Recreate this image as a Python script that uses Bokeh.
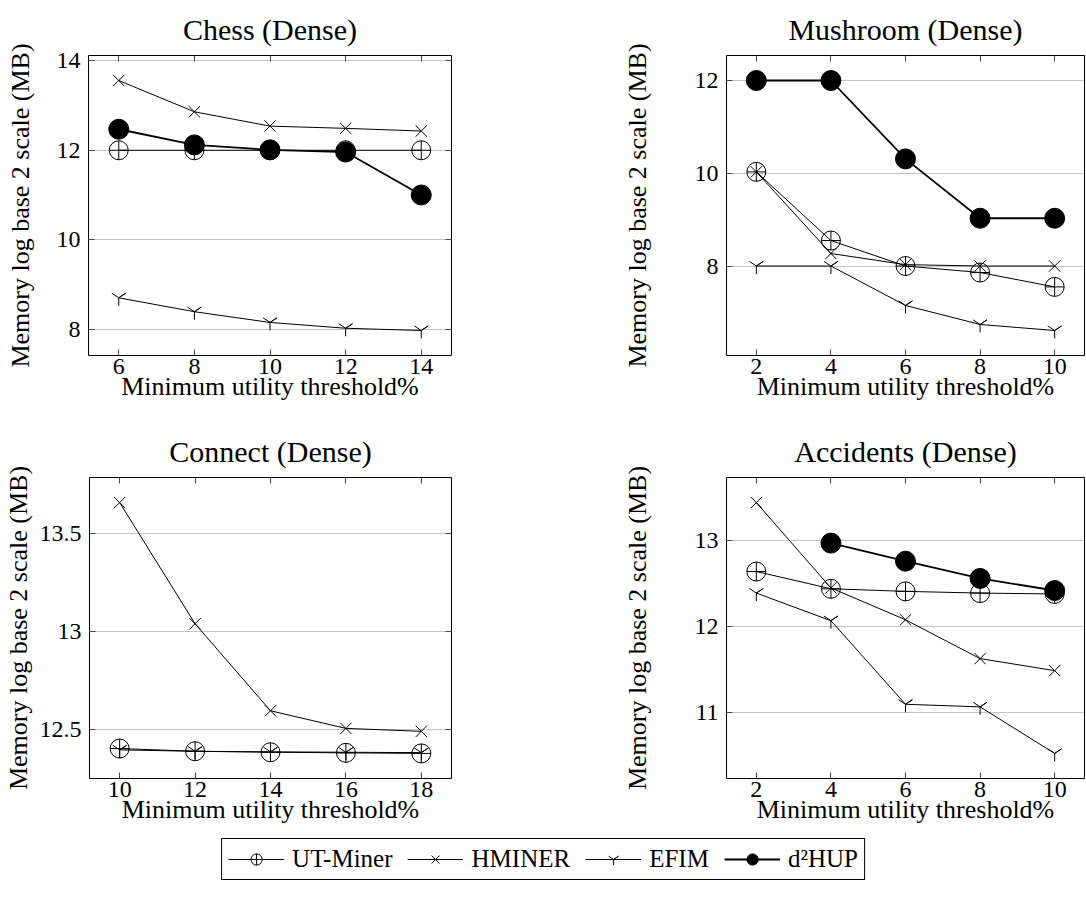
from bokeh.plotting import figure
from bokeh.layouts import column, row
from bokeh.models import (LinearAxis, FixedTicker, Range1d, Legend, LegendItem,
                          NumeralTickFormatter)
from bokeh.embed import file_html
from bokeh.resources import INLINE

# ---------------- data ----------------
methods = ["UT-Miner", "HMINER", "EFIM", "d²HUP"]

chess_x = [6, 8, 10, 12, 14]
chess_ut = [12.0, 12.0, 12.0, 12.0, 12.0]
chess_hminer = [13.56, 12.86, 12.54, 12.49, 12.43]
chess_efim = [8.70, 8.39, 8.15, 8.02, 7.97]
chess_d2hup = [12.47, 12.12, 12.01, 11.96, 11.0]

mush_x = [2, 4, 6, 8, 10]
mush_ut = [10.03, 8.55, 8.0, 7.86, 7.55]
mush_hminer = [10.03, 8.27, 8.03, 8.0, 8.0]
mush_efim = [8.0, 8.0, 7.15, 6.74, 6.61]
mush_d2hup = [12.0, 12.0, 10.31, 9.03, 9.03]

conn_x = [10, 12, 14, 16, 18]
conn_ut = [12.402, 12.388, 12.383, 12.380, 12.377]
conn_hminer = [13.66, 13.04, 12.595, 12.505, 12.49]
conn_efim = [12.395, 12.388, 12.385, 12.383, 12.381]

acc_x = [2, 4, 6, 8, 10]
acc_ut = [12.64, 12.44, 12.41, 12.39, 12.38]
acc_hminer = [13.44, 12.45, 12.08, 11.63, 11.49]
acc_efim = [12.39, 12.07, 11.10, 11.07, 10.53]
acc_d2hup_x = [4, 6, 8, 10]
acc_d2hup = [12.97, 12.76, 12.56, 12.42]

chess_yticks = [8, 10, 12, 14]
mush_yticks = [8, 10, 12]
conn_yticks = [12.5, 13, 13.5]
acc_yticks = [11, 12, 13]

# ---------------- style ----------------
SERIF = "Liberation Serif"
STYLE = {
    "UT-Miner": dict(marker="circle_cross", size=19, fill=None, lw=1.0),
    "HMINER": dict(marker="x", size=16, fill=None, lw=1.0),
    "EFIM": dict(marker="y", size=16, fill=None, lw=1.0),
    "d²HUP": dict(marker="circle", size=20, fill="black", lw=1.8),
}


def enlarge(vals, frac=0.1):
    lo, hi = min(vals), max(vals)
    d = (hi - lo) * frac
    return lo - d, hi + d


def panel(title, series, xticks, yticks, width, height, mb, ylab_standoff,
          right_axis=True, yfmt="0"):
    allx = [v for s in series for v in s[1]]
    ally = [v for s in series for v in s[2]]
    x0, x1 = enlarge(allx)
    y0, y1 = enlarge(ally)
    p = figure(width=width, height=height, x_range=Range1d(x0, x1),
               y_range=Range1d(y0, y1), output_backend="svg",
               toolbar_location=None, min_border_left=mb[0],
               min_border_right=mb[1], min_border_top=mb[2],
               min_border_bottom=mb[3], background_fill_color="white",
               border_fill_color="white")
    p.title.text = title
    p.title.text_font = SERIF
    p.title.text_font_size = "30px"
    p.title.text_font_style = "normal"
    p.title.text_color = "black"
    p.title.align = "center"
    p.title.vertical_align = "top"
    p.title.standoff = 15
    p.outline_line_color = "black"
    p.outline_line_width = 1
    p.outline_line_alpha = 1

    for ax in (p.xaxis[0], p.yaxis[0]):
        ax.major_tick_in = 6
        ax.major_tick_out = 0
        ax.minor_tick_line_color = None
        ax.axis_line_color = None
        ax.major_tick_line_color = "#444444"
        ax.major_label_text_font = SERIF
        ax.major_label_text_font_size = "24px"
        ax.major_label_text_color = "black"
        ax.axis_label_text_font = SERIF
        ax.axis_label_text_font_size = "26px"
        ax.axis_label_text_font_style = "normal"
        ax.axis_label_text_color = "black"
    p.xaxis[0].ticker = FixedTicker(ticks=xticks)
    p.yaxis[0].ticker = FixedTicker(ticks=yticks)
    p.yaxis[0].formatter = NumeralTickFormatter(format=yfmt)
    p.xaxis[0].formatter = NumeralTickFormatter(format="0")
    p.xaxis[0].axis_label = "Minimum utility threshold%"
    p.yaxis[0].axis_label = "Memory log base 2 scale (MB)"
    p.xaxis[0].major_label_standoff = 3
    p.xaxis[0].axis_label_standoff = -5
    p.yaxis[0].major_label_standoff = 8
    p.yaxis[0].axis_label_standoff = ylab_standoff

    top = LinearAxis(ticker=FixedTicker(ticks=xticks), major_tick_in=6,
                     major_tick_out=0, minor_tick_line_color=None,
                     axis_line_color=None, major_label_text_font_size="0px",
                     major_label_standoff=0, major_tick_line_color="#444444")
    p.add_layout(top, "above")
    if right_axis:
        rt = LinearAxis(ticker=FixedTicker(ticks=yticks), major_tick_in=6,
                        major_tick_out=0, minor_tick_line_color=None,
                        axis_line_color=None, major_label_text_font_size="0px",
                        major_label_standoff=0, major_tick_line_color="#444444")
        p.add_layout(rt, "right")

    p.xgrid.visible = False
    p.ygrid.grid_line_color = "#c4c4c4"
    p.ygrid.grid_line_width = 1.2

    for name, xs, ys in series:
        st = STYLE[name]
        p.line(xs, ys, line_color="black", line_width=st["lw"])
        p.scatter(xs, ys, marker=st["marker"], size=st["size"],
                  fill_color=st["fill"], line_color="black", line_width=1.0)
    return p


LW, RW = 615, 471
H1, H2 = 420, 418

chess = panel("Chess (Dense)",
              [("UT-Miner", chess_x, chess_ut), ("HMINER", chess_x, chess_hminer),
               ("EFIM", chess_x, chess_efim), ("d²HUP", chess_x, chess_d2hup)],
              chess_x, chess_yticks, LW, H1, (88, LW - 451, 55, 65), 19)
mush = panel("Mushroom (Dense)",
             [("UT-Miner", mush_x, mush_ut), ("HMINER", mush_x, mush_hminer),
              ("EFIM", mush_x, mush_efim), ("d²HUP", mush_x, mush_d2hup)],
             mush_x, mush_yticks, RW, H1, (726 - LW, 2, 55, 65), 40,
             right_axis=False)
conn = panel("Connect (Dense)",
             [("UT-Miner", conn_x, conn_ut), ("HMINER", conn_x, conn_hminer),
              ("EFIM", conn_x, conn_efim)],
             conn_x, conn_yticks, LW, H2, (88, LW - 451, 57, 60), 4,
             yfmt="0.[0]")
acc = panel("Accidents (Dense)",
            [("UT-Miner", acc_x, acc_ut), ("HMINER", acc_x, acc_hminer),
             ("EFIM", acc_x, acc_efim), ("d²HUP", acc_d2hup_x, acc_d2hup)],
            acc_x, acc_yticks, RW, H2, (726 - LW, 2, 57, 60), 40,
            right_axis=False)

# ---------------- legend ----------------
lf = figure(width=LW + RW, height=52, output_backend="svg", toolbar_location=None,
            x_axis_type=None, y_axis_type=None, min_border_left=0,
            min_border_right=0, min_border_top=0, min_border_bottom=0,
            outline_line_color=None)
items = []
for name in methods:
    st = STYLE[name]
    # hidden renderers that only provide the legend glyphs
    r1 = lf.line(x=acc_x[:1], y=acc_ut[:1], line_color="black",
                 line_width=st["lw"], visible=False)
    r2 = lf.scatter(x=acc_x[:1], y=acc_ut[:1], marker=st["marker"],
                    size=st["size"], fill_color=st["fill"], line_color="black",
                    line_width=1.0, visible=False)
    items.append(LegendItem(label=name, renderers=[r1, r2]))
leg = Legend(items=items, orientation="horizontal", location="top_center",
             label_text_font=SERIF, label_text_font_size="25px",
             label_text_color="black", glyph_width=56, glyph_height=28,
             label_standoff=8, spacing=15, padding=6, margin=0,
             border_line_color="black", border_line_width=1.2,
             border_line_alpha=1, background_fill_alpha=1)
lf.add_layout(leg)

layout = column(row(chess, mush), row(conn, acc), lf)
open("out.html", "w").write(file_html(layout, INLINE))
